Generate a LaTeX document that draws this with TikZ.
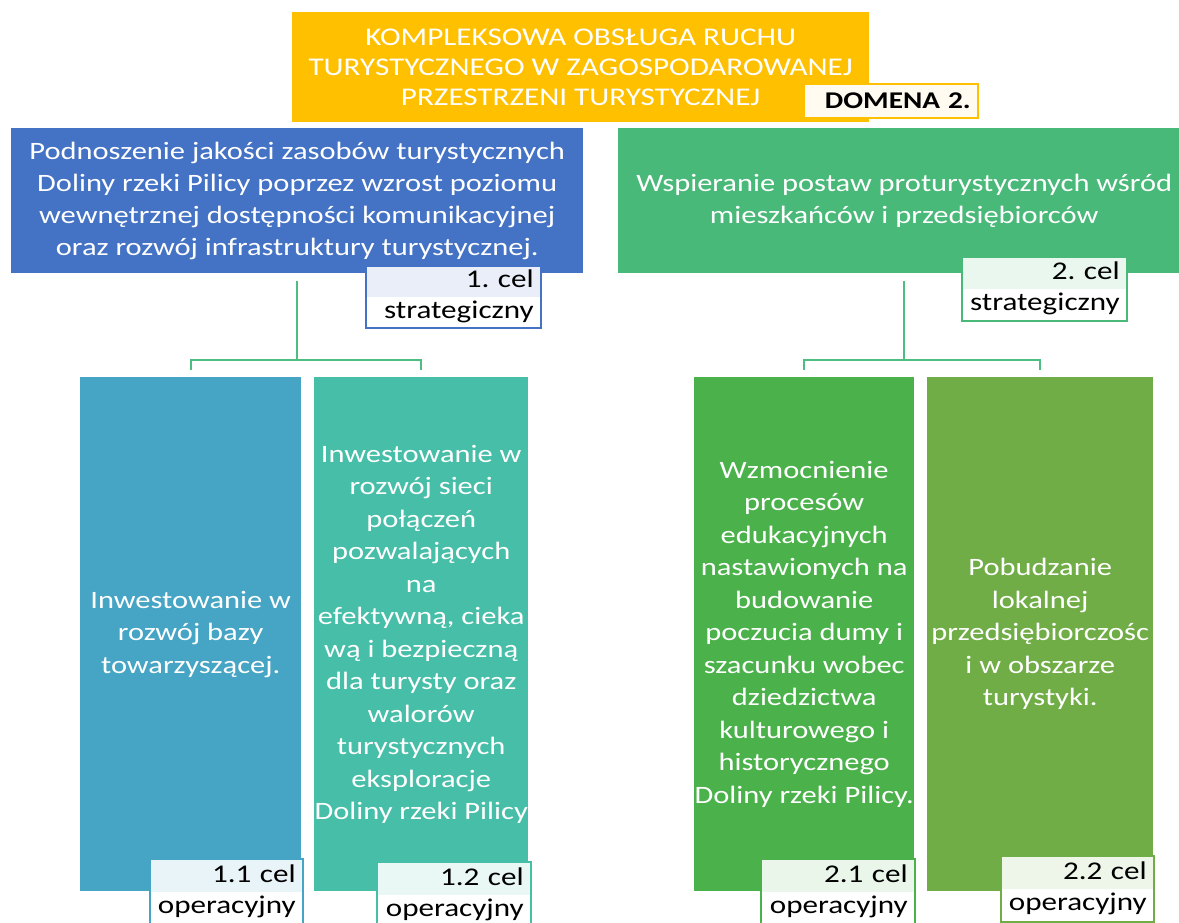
\documentclass[tikz,border=0pt]{standalone}
\usepackage{fontspec}
\setmainfont{Carlito}[FakeStretch=1.22]
\definecolor{domgold}{HTML}{FFC000}
\definecolor{celblue}{HTML}{4472C4}
\definecolor{celgreen}{HTML}{48B978}
\definecolor{opsteel}{HTML}{46A4C4}
\definecolor{opteal}{HTML}{47BEA8}
\definecolor{opgreen}{HTML}{4BB24B}
\definecolor{opolive}{HTML}{71AD47}
\definecolor{linkgreen}{HTML}{4DBD82}
\tikzstyle{domainbox}=[fill=domgold, text=white, align=center, inner sep=0pt,
  font=\fontsize{25.5}{30}\selectfont]
\tikzstyle{strategic}=[text=white, align=center, inner sep=0pt,
  font=\fontsize{25}{32}\selectfont]
\tikzstyle{operational}=[text=white, align=center, inner sep=0pt,
  font=\fontsize{25}{32.5}\selectfont]
\tikzstyle{tag}=[fill=white, line width=1.5pt, align=right, inner ysep=0pt,
  inner xsep=7pt, font=\fontsize{25.5}{31}\selectfont\frenchspacing]
\tikzstyle{link}=[draw=linkgreen, line width=2.2pt]
\tikzset{halftint/.style={draw=#1, path picture={\fill[#1!12] (path picture bounding box.north west)
  rectangle (path picture bounding box.east);}}}

\begin{document}
\begin{tikzpicture}[x=1pt, y=-1pt]
      \clip (0,0) rectangle (1179,922);
      \fill[white] (0,0) rectangle (1179,922);

      % domena
      \node[domainbox, minimum width=577, minimum height=110, anchor=north west]
        (dom) at (292,12) {KOMPLEKSOWA OBSŁUGA RUCHU\\TURYSTYCZNEGO W ZAGOSPODAROWANEJ\\PRZESTRZENI TURYSTYCZNEJ};
      \node[tag, draw=domgold, fill=domgold!6, text width=160, minimum height=34,
        anchor=north west, font=\fontsize{24}{28}\bfseries\frenchspacing] (domtag) at (803,83) {DOMENA 2.};

      % cele strategiczne
      \node[strategic, fill=celblue, minimum width=572, minimum height=145, anchor=north west]
        (s1) at (11,128) {Podnoszenie jakości zasobów turystycznych\\Doliny rzeki Pilicy poprzez wzrost poziomu\\wewnętrznej dostępności komunikacyjnej\\oraz rozwój infrastruktury turystycznej.};
      \node[strategic, fill=celgreen, minimum width=572, minimum height=145, anchor=north west]
        (s2) at (618,128) {Wspieranie postaw proturystycznych wśród\\mieszkańców i przedsiębiorców};
      \node[tag, halftint=celblue, text width=161, minimum height=62,
        anchor=north west] (s1tag) at (365,265) {1. cel\\strategiczny};
      \node[tag, halftint=celgreen, text width=151, minimum height=64,
        anchor=north west] (s2tag) at (961,256) {2. cel\\strategiczny};

      % cele operacyjne
      \node[operational, fill=opsteel, minimum width=221, minimum height=514, anchor=north west]
        (o11) at (80,377) {Inwestowanie w\\rozwój bazy\\towarzyszącej.};
      \node[operational, fill=opteal, minimum width=214, minimum height=514, anchor=north west]
        (o12) at (314,377) {Inwestowanie w\\rozwój sieci\\połączeń\\pozwalających\\na\\efektywną, cieka\\wą i bezpieczną\\dla turysty oraz\\walorów\\turystycznych\\eksploracje\\Doliny rzeki Pilicy};
      \node[operational, fill=opgreen, minimum width=220, minimum height=514, anchor=north west]
        (o21) at (694,377) {Wzmocnienie\\procesów\\edukacyjnych\\nastawionych na\\budowanie\\poczucia dumy i\\szacunku wobec\\dziedzictwa\\kulturowego i\\historycznego\\Doliny rzeki Pilicy.};
      \node[operational, fill=opolive, minimum width=226, minimum height=514, anchor=north west]
        (o22) at (927,377) {Pobudzanie\\lokalnej\\przedsiębiorczośc\\i w obszarze\\turystyki.};

      \node[tag, halftint=opsteel, text width=139, minimum height=66,
        anchor=north west] (o11tag) at (149,858) {1.1 cel\\operacyjny};
      \node[tag, halftint=opteal, text width=140, minimum height=66,
        anchor=north west] (o12tag) at (376,861) {1.2 cel\\operacyjny};
      \node[tag, halftint=opgreen, text width=140, minimum height=66,
        anchor=north west] (o21tag) at (760,858) {2.1 cel\\operacyjny};
      \node[tag, halftint=opolive, text width=139, minimum height=66,
        anchor=north west] (o22tag) at (1000,855) {2.2 cel\\operacyjny};

      % polaczenia
      \draw[link] ([yshift=-8pt]s1.south) |- ([yshift=17pt]o11.north) -- ([yshift=7pt]o11.north);
      \draw[link] ([yshift=-8pt]s1.south) |- ([yshift=17pt]o12.north) -- ([yshift=7pt]o12.north);
      \draw[link] ([yshift=-8pt]s2.south) |- ([yshift=17pt]o21.north) -- ([yshift=7pt]o21.north);
      \draw[link] ([yshift=-8pt]s2.south) |- ([yshift=17pt]o22.north) -- ([yshift=7pt]o22.north);
    \end{tikzpicture}
\end{document}
